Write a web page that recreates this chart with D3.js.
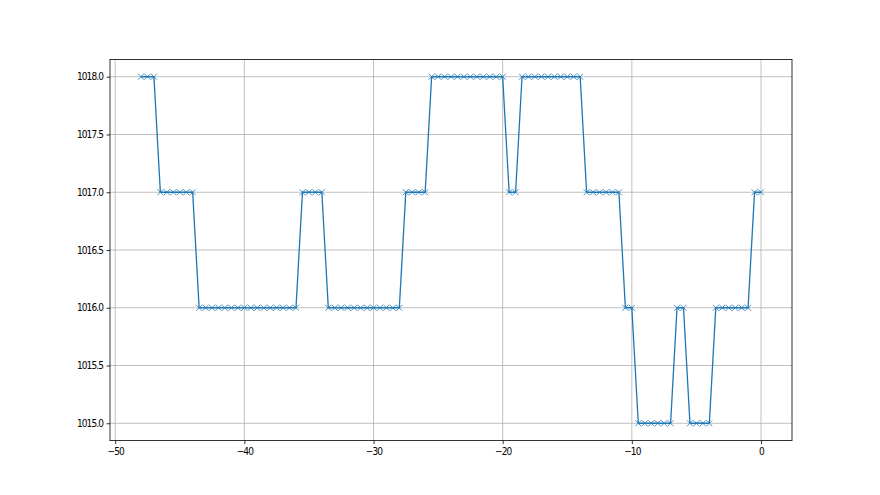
<!DOCTYPE html>
<html>
<head>
<meta charset="utf-8">
<script src="https://cdn.jsdelivr.net/npm/d3@7"></script>
<style>
html,body{margin:0;padding:0;background:#fff;}
svg{display:block;}
text{font-family:"DejaVu Sans Condensed","DejaVu Sans",sans-serif;}
</style>
</head>
<body>
<svg id="chart" width="880" height="495"></svg>
<script>
const hours = [-48,-47.5,-47,-46.5,-46,-45.5,-45,-44.5,-44,-43.5,-43,-42.5,-42,-41.5,-41,-40.5,-40,-39.5,-39,-38.5,-38,-37.5,-37,-36.5,-36,-35.5,-35,-34.5,-34,-33.5,-33,-32.5,-32,-31.5,-31,-30.5,-30,-29.5,-29,-28.5,-28,-27.5,-27,-26.5,-26,-25.5,-25,-24.5,-24,-23.5,-23,-22.5,-22,-21.5,-21,-20.5,-20,-19.5,-19,-18.5,-18,-17.5,-17,-16.5,-16,-15.5,-15,-14.5,-14,-13.5,-13,-12.5,-12,-11.5,-11,-10.5,-10,-9.5,-9,-8.5,-8,-7.5,-7,-6.5,-6,-5.5,-5,-4.5,-4,-3.5,-3,-2.5,-2,-1.5,-1,-0.5,0];
const pressure = [1018,1018,1018,
 1017,1017,1017,1017,1017,1017,
 1016,1016,1016,1016,1016,1016,1016,1016,1016,1016,1016,1016,1016,1016,1016,1016,
 1017,1017,1017,1017,
 1016,1016,1016,1016,1016,1016,1016,1016,1016,1016,1016,1016,
 1017,1017,1017,1017,
 1018,1018,1018,1018,1018,1018,1018,1018,1018,1018,1018,1018,
 1017,1017,
 1018,1018,1018,1018,1018,1018,1018,1018,1018,1018,
 1017,1017,1017,1017,1017,1017,
 1016,1016,
 1015,1015,1015,1015,1015,1015,
 1016,1016,
 1015,1015,1015,1015,
 1016,1016,1016,1016,1016,1016,
 1017,1017];
const xTicks = [-50,-40,-30,-20,-10,0];
const yTicks = [1015.0,1015.5,1016.0,1016.5,1017.0,1017.5,1018.0];

const data = hours.map((h,i)=>({x:h,y:pressure[i]}));
const L=110,R=792,T=59.4,B=440.6;
const svg=d3.select("#chart");
const xMin=d3.min(hours),xMax=d3.max(hours),yMin=d3.min(pressure),yMax=d3.max(pressure);
const xp=(xMax-xMin)*0.05,yp=(yMax-yMin)*0.05;
const x=d3.scaleLinear().domain([xMin-xp,xMax+xp]).range([L,R]);
const y=d3.scaleLinear().domain([yMin-yp,yMax+yp]).range([B,T]);

// grid
const g=svg.append("g");
g.selectAll(".gx").data(xTicks).enter().append("line")
 .attr("x1",d=>x(d)).attr("x2",d=>x(d)).attr("y1",T).attr("y2",B)
 .attr("stroke","#b0b0b0").attr("stroke-width",0.8);
g.selectAll(".gy").data(yTicks).enter().append("line")
 .attr("y1",d=>y(d)).attr("y2",d=>y(d)).attr("x1",L).attr("x2",R)
 .attr("stroke","#b0b0b0").attr("stroke-width",0.8);

// axes
const xAxis=svg.append("g").attr("transform",`translate(0,${B})`)
 .call(d3.axisBottom(x).tickValues(xTicks).tickSize(3.5).tickPadding(3.5).tickFormat(d=>d<0?"\u2212"+Math.abs(d):d));
const yAxis=svg.append("g").attr("transform",`translate(${L},0)`)
 .call(d3.axisLeft(y).tickValues(yTicks).tickSize(3.5).tickPadding(3.5).tickFormat(d3.format(".1f")));
[xAxis,yAxis].forEach(a=>{
 a.select(".domain").remove();
 a.selectAll("text").attr("font-size","10px").attr("fill","#000")
  .attr("font-family","DejaVu Sans Condensed, DejaVu Sans").attr("letter-spacing","-0.9px");
 a.selectAll("line").attr("stroke","#000").attr("stroke-width",0.8);
});

// line
svg.append("path").datum(data)
 .attr("d",d3.line().x(d=>x(d.x)).y(d=>y(d.y)))
 .attr("fill","none").attr("stroke","#1f77b4").attr("stroke-width",1.3);

// markers
const ms=3;
svg.append("g").selectAll("path").data(data).enter().append("path")
 .attr("d",d=>`M${x(d.x)-ms},${y(d.y)-ms}L${x(d.x)+ms},${y(d.y)+ms}M${x(d.x)-ms},${y(d.y)+ms}L${x(d.x)+ms},${y(d.y)-ms}`)
 .attr("stroke","#1f77b4").attr("stroke-width",1).attr("stroke-opacity",0.8).attr("fill","none");

// frame
svg.append("rect").attr("x",L).attr("y",T).attr("width",R-L).attr("height",B-T)
 .attr("fill","none").attr("stroke","#000").attr("stroke-width",0.8);
</script>
</body>
</html>
